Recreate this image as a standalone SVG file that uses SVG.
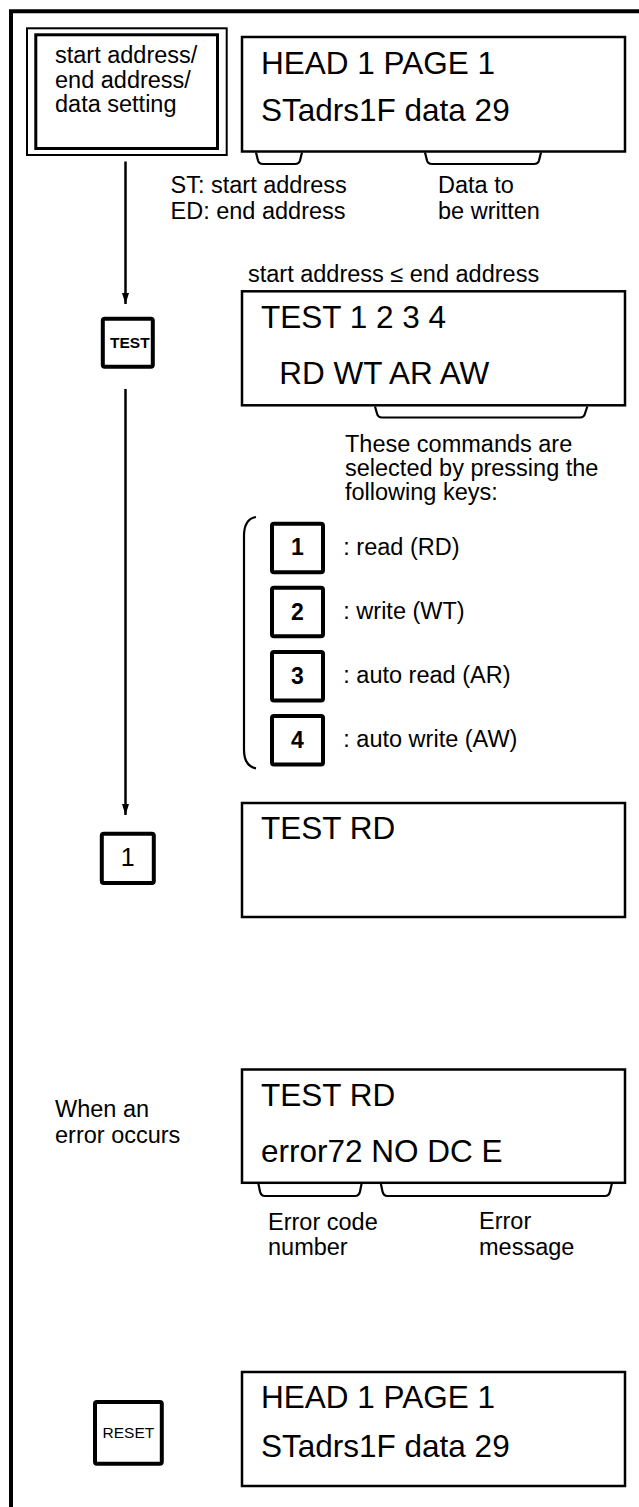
<svg xmlns="http://www.w3.org/2000/svg" width="639" height="1507" viewBox="0 0 639 1507">
<defs>
<style>
text{font-family:"Liberation Sans",Arial,Helvetica,sans-serif;fill:#000}
.lbl{font-size:23.5px}
.lcd{font-size:31.5px}
.keyb{font-size:23px;font-weight:bold;text-anchor:middle}
.disp{fill:#fff;stroke:#000;stroke-width:2.5}
.key{fill:#fff;stroke:#000;stroke-width:4}
.brk{fill:none;stroke:#000;stroke-width:2.2;stroke-linejoin:round}
.conn{fill:none;stroke:#000;stroke-width:2.5}
</style>
<marker id="ah" markerWidth="12" markerHeight="8" refX="11" refY="3.5" orient="auto" markerUnits="userSpaceOnUse" viewBox="0 0 12 8">
<path d="M0,0 L11,3.5 L0,7 Z" fill="#000"/>
</marker>
</defs>
<rect width="639" height="1507" fill="#fff"/>
<g id="frame">
<path d="M11,1507 L11,11.3 L639,11.3" fill="none" stroke="#000" stroke-width="4"/>
</g>
<g id="connectors">
<line class="conn" x1="125.5" y1="161.5" x2="125.5" y2="304" marker-end="url(#ah)"/>
<line class="conn" x1="125.5" y1="389" x2="125.5" y2="815" marker-end="url(#ah)"/>
</g>
<g id="setting-key">
<rect x="27" y="28.3" width="199.7" height="126.7" fill="#fff" stroke="#000" stroke-width="2"/>
<rect x="35.8" y="34.8" width="181.7" height="113.7" fill="none" stroke="#000" stroke-width="3"/>
<text class="lbl" x="55" y="63">start address/</text>
<text class="lbl" x="55" y="87.5">end address/</text>
<text class="lbl" x="55" y="112">data setting</text>
</g>
<g id="display1">
<rect class="disp" x="242" y="37" width="383" height="114.5"/>
<text class="lcd" x="261" y="74">HEAD 1 PAGE 1</text>
<text class="lcd" x="261" y="120.7">STadrs1F data 29</text>
<path class="brk" d="M256,152.5 L258,160.5 Q259,164 263,164 L295,164 Q299,164 300,160.5 L302,152.5"/>
<path class="brk" d="M425,152.5 L427,160.5 Q428,164 432,164 L534,164 Q538,164 539,160.5 L541,152.5"/>
<text class="lbl" x="170.5" y="192.5">ST: start address</text>
<text class="lbl" x="170.5" y="219">ED: end address</text>
<text class="lbl" x="438" y="192.5">Data to</text>
<text class="lbl" x="438" y="219">be written</text>
</g>
<g id="test-key">
<rect class="key" x="102.8" y="318.8" width="50" height="48" rx="2"/>
<text x="129.8" y="348" style="font-size:15.5px;font-weight:bold;text-anchor:middle">TEST</text>
</g>
<g id="display2">
<text class="lbl" x="248" y="281.7">start address ≤ end address</text>
<rect class="disp" x="242" y="291.3" width="383" height="114"/>
<text class="lcd" x="261" y="327.7">TEST 1 2 3 4</text>
<text class="lcd" x="279.3" y="384.3">RD WT AR AW</text>
<path class="brk" d="M375,406.5 L377,413.5 Q378,417.5 382,417.5 L580,417.5 Q584,417.5 585,413.5 L587.3,406.5"/>
<text class="lbl" x="345" y="451.7">These commands are</text>
<text class="lbl" x="345" y="475.7">selected by pressing the</text>
<text class="lbl" x="345" y="499.5">following keys:</text>
</g>
<g id="key-list">
<path class="brk" d="M256,517 Q244,519 244,536 L244,750 Q244,766 256,768.3"/>
<rect class="key" x="272" y="523.7" width="51" height="48.5" rx="2"/>
<text class="keyb" x="297.5" y="555">1</text>
<text class="lbl" x="343.3" y="555">: read (RD)</text>
<rect class="key" x="272" y="587.7" width="51" height="48.5" rx="2"/>
<text class="keyb" x="297.5" y="619.5">2</text>
<text class="lbl" x="343.3" y="619">: write (WT)</text>
<rect class="key" x="272" y="652" width="51" height="48.5" rx="2"/>
<text class="keyb" x="297.5" y="683.7">3</text>
<text class="lbl" x="343.3" y="683">: auto read (AR)</text>
<rect class="key" x="272" y="716" width="51" height="48.5" rx="2"/>
<text class="keyb" x="297.5" y="747.7">4</text>
<text class="lbl" x="343.3" y="747">: auto write (AW)</text>
</g>
<g id="key-1">
<rect class="key" x="101.8" y="833.7" width="52" height="49.3" rx="2"/>
<text x="127.8" y="865.5" style="font-size:25px;text-anchor:middle">1</text>
</g>
<g id="display3">
<rect class="disp" x="242" y="803" width="383" height="114"/>
<text class="lcd" x="261" y="839.3">TEST RD</text>
</g>
<g id="error-note">
<text class="lbl" x="55" y="1117">When an</text>
<text class="lbl" x="55" y="1143.3">error occurs</text>
</g>
<g id="display4">
<rect class="disp" x="242" y="1069.5" width="383" height="113.3"/>
<text class="lcd" x="261" y="1106">TEST RD</text>
<text class="lcd" x="261" y="1161.7">error72 NO DC E</text>
<path class="brk" d="M258.3,1183 L260,1191.5 Q261,1196 265,1196 L355,1196 Q359,1196 360,1191.5 L361.7,1183"/>
<path class="brk" d="M380.7,1183 L382.5,1191.5 Q383.5,1196 387.5,1196 L605,1196 Q609,1196 610,1191.5 L612,1183"/>
<text class="lbl" x="268" y="1230">Error code</text>
<text class="lbl" x="268" y="1255">number</text>
<text class="lbl" x="479" y="1229">Error</text>
<text class="lbl" x="479" y="1255">message</text>
</g>
<g id="reset-key">
<rect class="key" x="95" y="1402" width="66.8" height="61.7" rx="2"/>
<text x="128.4" y="1437.5" style="font-size:15.5px;text-anchor:middle">RESET</text>
</g>
<g id="display5">
<rect class="disp" x="242" y="1372" width="383" height="114"/>
<text class="lcd" x="261" y="1408.3">HEAD 1 PAGE 1</text>
<text class="lcd" x="261" y="1456.7">STadrs1F data 29</text>
</g>
</svg>
